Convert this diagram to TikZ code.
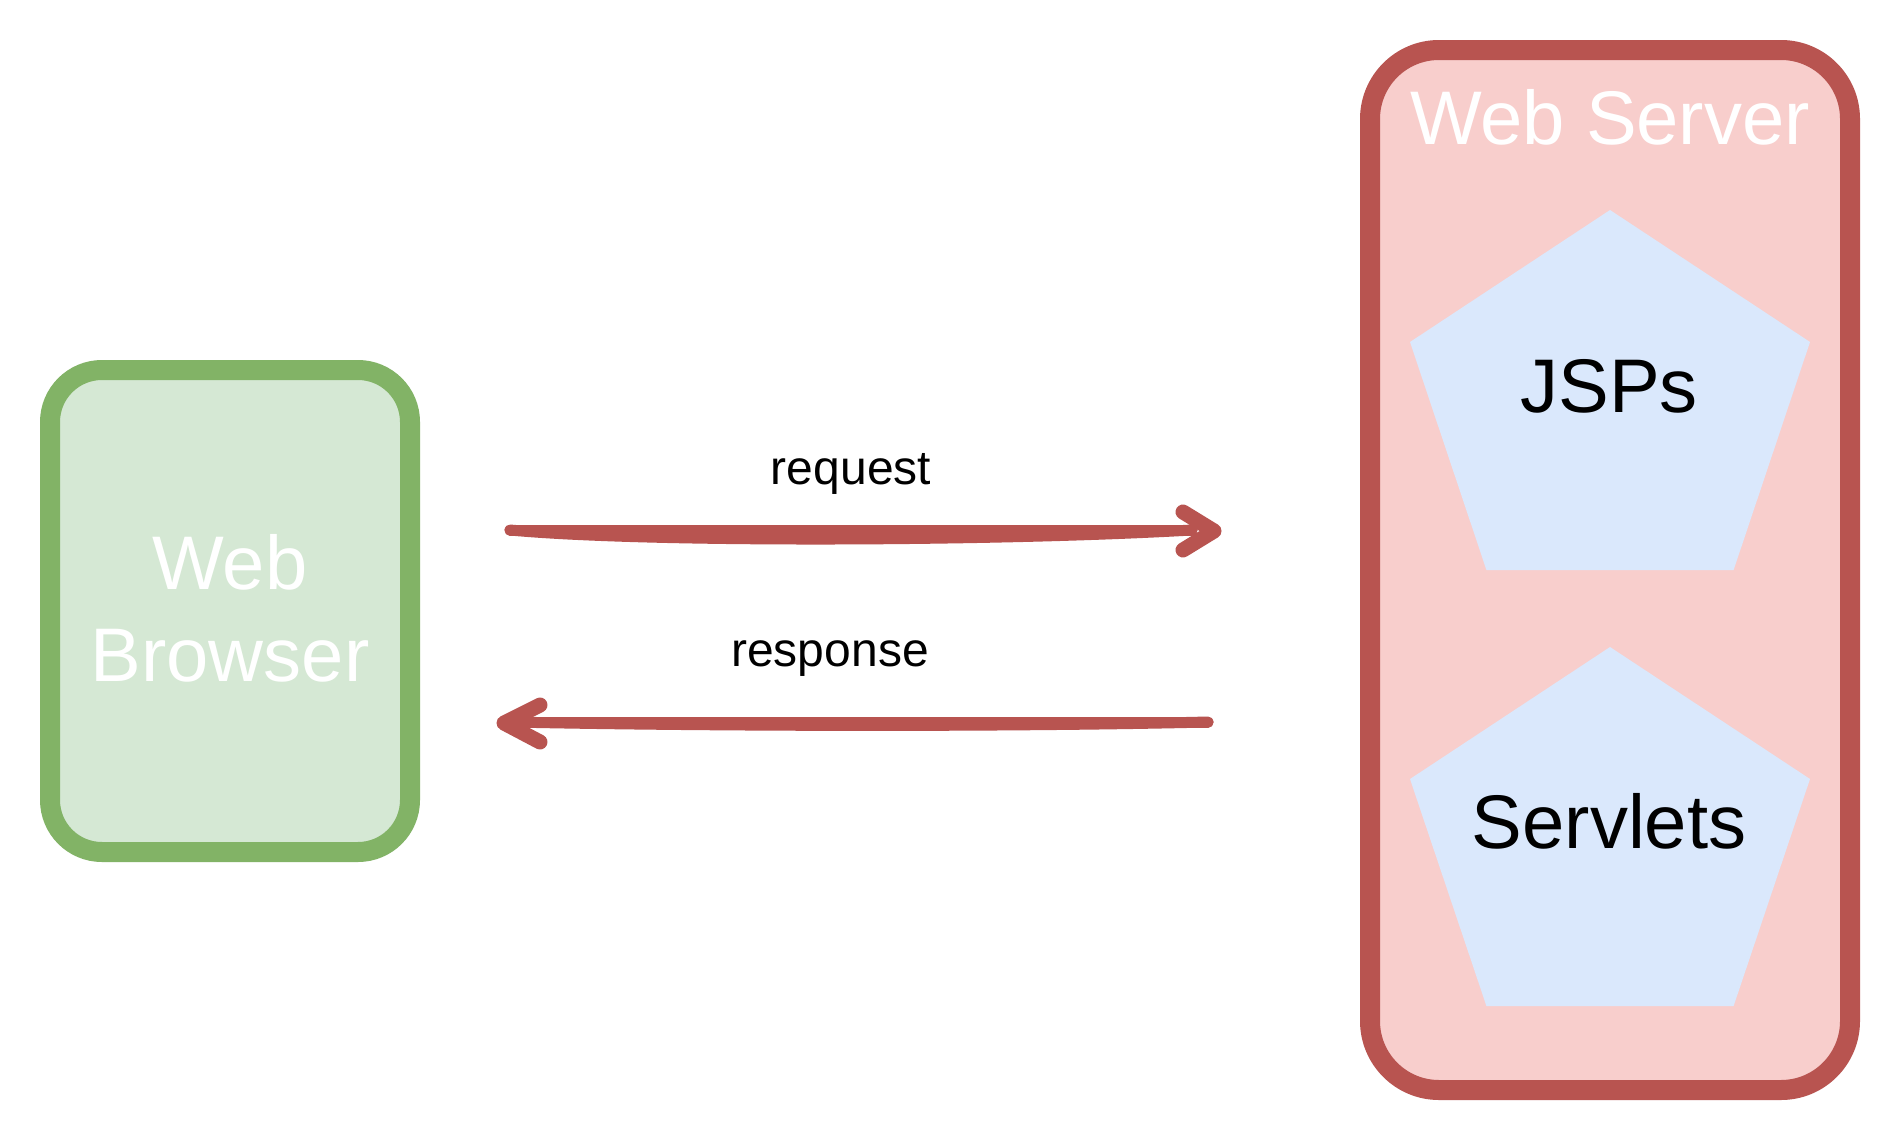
\documentclass[tikz,border=0pt]{standalone}
\usepackage{fontspec}
\setmainfont{Liberation Sans}
\definecolor{gstroke}{HTML}{82B366}
\definecolor{gfill}{HTML}{D5E8D4}
\definecolor{rstroke}{HTML}{B85450}
\definecolor{rfill}{HTML}{F8CECC}
\definecolor{bfill}{HTML}{DAE8FC}
\tikzset{
  browserbox/.style={draw=gstroke, fill=gfill, line width=10pt, rounded corners=26pt,
    minimum width=180pt, minimum height=241pt, inner sep=0pt},
  serverbox/.style={draw=rstroke, fill=rfill, line width=10pt, rounded corners=34.5pt,
    minimum width=240pt, minimum height=520pt, inner sep=0pt},
  pent/.style={fill=bfill},
  bigtext/.style={font=\fontsize{38}{45.6}\selectfont, inner sep=0pt, anchor=base},
  lbl/.style={font=\fontsize{24}{28.8}\selectfont, inner sep=0pt, anchor=base, text=black},
  sk/.style={draw=rstroke, line width=5.5pt, line cap=round, line join=round},
  skhead/.style={draw=rstroke, line width=7.5pt, line cap=round, line join=round},
}
\begin{document}
\begin{tikzpicture}[x=0.5pt,y=-0.5pt]
\useasboundingbox (0,0) rectangle (1900,1140);
\fill[white] (0,0) rectangle (1900,1140);
% boxes
\node[browserbox] (browser) at (230,611) {};
\node[serverbox] (server) at (1610,570) {};
% pentagons
\fill[pent] (1610,210) -- (1810,342) -- (1733.6,570) -- (1486.4,570) -- (1410,342) -- cycle;
\fill[pent] (1610,647) -- (1810,779) -- (1733.6,1006) -- (1486.4,1006) -- (1410,779) -- cycle;
% texts
\node[bigtext, text=white] (webl) at (230,589) {Web};
\node[bigtext, text=white] (browserl) at (230,681) {Browser};
\node[bigtext, text=white] (serverl) at (1610,144) {Web Server};
\node[bigtext, text=black] (jsps) at (1609,412) {JSPs};
\node[bigtext, text=black] (servlets) at (1609,848) {Servlets};
\node[lbl] (reqlbl) at (851,484) {request};
\node[lbl] (reslbl) at (830,666) {response};
% request arrow
\coordinate (reqA) at (510,530);
\coordinate (reqB) at (1192,530);
\coordinate (reqTip) at (1214,531);
\coordinate (reqU) at (1183,512);
\coordinate (reqD) at (1183,550);
\draw[sk] (reqA) -- (reqB);
\draw[sk] (reqA) .. controls (650,543) and (1000,541) .. (reqB);
\draw[skhead] (reqU) -- (reqTip) -- (reqD);
% response arrow
\coordinate (resA) at (1208,722);
\coordinate (resB) at (512,722);
\coordinate (resTip) at (504,723);
\coordinate (resU) at (540,705);
\coordinate (resD) at (540,742);
\draw[sk] (resA) -- (resB);
\draw[sk] (resA) .. controls (1000,727) and (700,726) .. (resB);
\draw[skhead] (resU) -- (resTip) -- (resD);
\end{tikzpicture}
\end{document}
